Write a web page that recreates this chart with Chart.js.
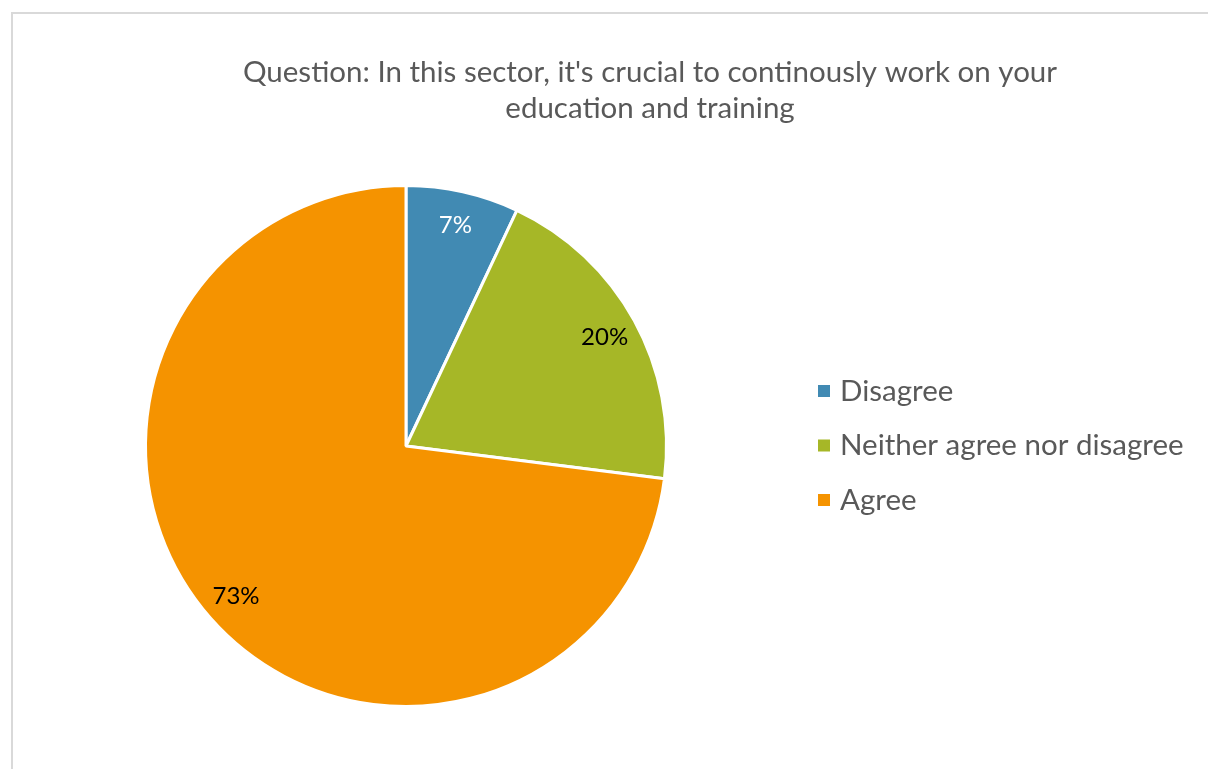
<!DOCTYPE html>
<html>
<head>
<meta charset="utf-8">
<script src="https://cdn.jsdelivr.net/npm/chart.js@4.4.1/dist/chart.umd.min.js"></script>
<style>
  html, body { margin: 0; padding: 0; background: #fff; overflow: hidden; }
  #frame {
    position: absolute; left: 11px; top: 12px;
    width: 1300px; height: 900px;
    border: 2px solid #d9d9d9; box-sizing: border-box;
  }
  #wrap { position: absolute; left: 0; top: 0; width: 1208px; height: 769px; }
</style>
</head>
<body>
<div id="frame"></div>
<div id="wrap"><canvas id="chart"></canvas></div>
<script>
// Survey answers
const categories = ["Disagree", "Neither agree nor disagree", "Agree"];
const shares = [7, 20, 73];
const sliceColors = ["#418AB3", "#A6B727", "#F59300"];
const labelColors = ["#ffffff", "#000000", "#000000"];
const titleLines = [
  "Question: In this sector, it's crucial to continously work on your",
  "education and training",
];

const FONT = "Lato, 'Open Sans', sans-serif";

// Title, legend and percentage labels drawn on top of the pie
const overlayPlugin = {
  id: "overlay",
  afterDatasetsDraw(chart) {
    const ctx = chart.ctx;
    ctx.save();

    // Title
    ctx.fillStyle = "#595959";
    ctx.font = "29.5px " + FONT;
    ctx.textAlign = "center";
    ctx.textBaseline = "middle";
    titleLines.forEach((line, i) => ctx.fillText(line, 650, 72 + i * 36));

    // Value labels along each slice's middle angle
    const meta = chart.getDatasetMeta(0);
    ctx.font = "24px " + FONT;
    meta.data.forEach((arc, i) => {
      const p = arc.getProps(["x", "y", "startAngle", "endAngle", "outerRadius"], true);
      const mid = (p.startAngle + p.endAngle) / 2;
      const r = p.outerRadius * 0.87;
      ctx.fillStyle = labelColors[i];
      ctx.fillText(shares[i] + "%", p.x + Math.cos(mid) * r, p.y + Math.sin(mid) * r);
    });

    // Legend
    ctx.font = "29.5px " + FONT;
    ctx.textAlign = "left";
    chart.data.labels.forEach((label, i) => {
      const y = 391 + i * 54.5;
      ctx.fillStyle = sliceColors[i];
      ctx.fillRect(818, y - 6, 12, 12);
      ctx.fillStyle = "#595959";
      ctx.fillText(label, 840, y);
    });

    ctx.restore();
  },
};

new Chart(document.getElementById("chart"), {
  type: "pie",
  data: {
    labels: categories,
    datasets: [
      {
        data: shares,
        backgroundColor: sliceColors,
        borderColor: "#ffffff",
        borderWidth: 3,
      },
    ],
  },
  options: {
    responsive: true,
    maintainAspectRatio: false,
    animation: false,
    layout: {
      padding: { top: 184, left: 144, right: 540, bottom: 61 },
    },
    plugins: {
      legend: { display: false },
      title: { display: false },
      tooltip: { enabled: false },
    },
  },
  plugins: [overlayPlugin],
});
</script>
</body>
</html>
